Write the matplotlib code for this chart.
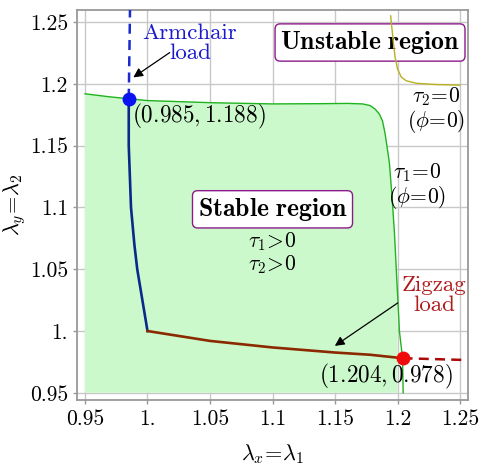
import numpy as np
from matplotlib import pyplot as plt

plt.rcParams['font.family'] = ['cmr10', 'DejaVu Serif']
plt.rcParams['mathtext.fontset'] = 'cm'
plt.rcParams['axes.unicode_minus'] = False

# boundary of the stable region (tau1 = 0 / tau2 = 0)
stable_x = [0.95, 0.97, 0.985, 1.0, 1.05, 1.1, 1.14, 1.16, 1.172, 1.178, 1.182, 1.1855,
            1.188, 1.19, 1.1915, 1.1935, 1.1955, 1.1975, 1.1995, 1.2015, 1.204, 1.2045]
stable_y = [1.192, 1.1895, 1.188, 1.1865, 1.1848, 1.1838, 1.184, 1.1842, 1.1838, 1.1825,
            1.1797, 1.1755, 1.170, 1.160, 1.150, 1.136, 1.11, 1.08, 1.04, 1.0, 0.978, 0.95]

# tau2 = 0 branch in the unstable region
tau2_x = [1.1945, 1.1955, 1.1965, 1.198, 1.200, 1.203, 1.207, 1.215, 1.23, 1.25]
tau2_y = [1.255, 1.245, 1.235, 1.222, 1.212, 1.2055, 1.2025, 1.2005, 1.1995, 1.199]

# armchair load path
arm_x = [0.985, 0.985, 0.9868, 0.9895, 0.9918, 1.0]
arm_y = [1.188, 1.15, 1.1, 1.07, 1.05, 1.0]
arm_ext_x = [0.985, 0.986]
arm_ext_y = [1.188, 1.26]

# zigzag load path
zig_x = [1.0, 1.05, 1.1, 1.15, 1.178, 1.204]
zig_y = [1.0, 0.992, 0.9867, 0.9826, 0.9808, 0.978]
zig_ext_x = [1.204, 1.256]
zig_ext_y = [0.978, 0.9765]

arm_pt = (0.985, 1.188)
zig_pt = (1.204, 0.978)

ticks = [0.95, 1.0, 1.05, 1.1, 1.15, 1.2, 1.25]
tick_labels = ['0.95', '1.', '1.05', '1.1', '1.15', '1.2', '1.25']

fig = plt.figure(figsize=(4.83, 4.70), dpi=100)
ax = fig.add_axes([0.1594, 0.149, 0.8086, 0.8297])

# fill of the stable region, clipped at x = 1.2
fx = np.minimum(np.array(stable_x), 1.2)
poly_x = np.concatenate([fx, [0.95]])
poly_y = np.concatenate([stable_y, [0.95]])
ax.fill(poly_x, poly_y, color='#ccf9cc', lw=0, zorder=1)
ax.plot(stable_x, stable_y, color='#1fb31f', lw=1.0, zorder=3)
ax.plot(tau2_x, tau2_y, color='#b8b020', lw=1.0, zorder=3)

ax.plot(arm_ext_x, arm_ext_y, color='#1a2acc', lw=1.8, ls=(0, (4, 2.5)), zorder=4)
ax.plot(arm_x, arm_y, color='#0a2a8a', lw=1.9, zorder=4)
ax.plot(zig_ext_x, zig_ext_y, color='#aa0a0a', lw=1.8, ls=(0, (4, 2.5)), zorder=4)
ax.plot(zig_x, zig_y, color='#8b2a00', lw=1.9, zorder=4)
ax.plot(*arm_pt, 'o', color='#0a14f0', ms=9, zorder=5)
ax.plot(*zig_pt, 'o', color='#f00a0a', ms=9, zorder=5)

fs = 15.5
ax.text(1.034, 1.233, 'Armchair\nload', color='#1a1acc', fontsize=16.5, ha='center',
        va='center', linespacing=1.05)
ax.annotate('', xy=(0.9868, 1.204), xytext=(1.0196, 1.2266),
            arrowprops=dict(arrowstyle='-|>', color='k', lw=0.9, mutation_scale=14))
ax.text(1.229, 1.029, 'Zigzag\nload', color='#b01a1a', fontsize=16.5, ha='center',
        va='center', linespacing=1.05)
ax.annotate('', xy=(1.148, 0.9867), xytext=(1.202, 1.024),
            arrowprops=dict(arrowstyle='-|>', color='k', lw=0.9, mutation_scale=14))

ax.text(0.9875, 1.174, r'$(0.985, 1.188)$', fontsize=16.7, ha='left', va='center')
ax.text(1.1905, 0.9635, r'$(1.204, 0.978)$', fontsize=16.7, ha='center', va='center')

box = dict(boxstyle='round,pad=0.2', fc='white', ec='#8b1a8b', lw=1.0)
ax.text(1.178, 1.2335, r'$\mathbf{Unstable\ region}$', fontsize=18.5, ha='center',
        va='center', bbox=box, zorder=2)
ax.text(1.1, 1.0985, r'$\mathbf{Stable\ region}$', fontsize=18.5, ha='center',
        va='center', bbox=box, zorder=6)
ax.text(1.1, 1.063, '$\\tau_1\\!>\\!0$\n$\\tau_2\\!>\\!0$', fontsize=fs, ha='center',
        va='center', linespacing=1.0)
ax.text(1.231, 1.179, '$\\tau_2\\!=\\!0$\n$(\\phi\\!=\\!0)$', fontsize=fs, ha='center',
        va='center', linespacing=1.0)
ax.text(1.216, 1.117, '$\\tau_1\\!=\\!0$\n$(\\phi\\!=\\!0)$', fontsize=fs, ha='center',
        va='center', linespacing=1.0)

ax.set_xlim(0.9436, 1.256)
ax.set_ylim(0.9442, 1.2598)
ax.set_xticks(ticks)
ax.set_xticklabels(tick_labels)
ax.set_yticks(ticks)
ax.set_yticklabels(tick_labels)
ax.tick_params(labelsize=fs, direction='out', length=3, color='#999999', width=1)
ax.grid(True, color='#c8c8c8', lw=1.0, zorder=0)
ax.set_axisbelow(True)
for s in ax.spines.values():
    s.set_color('#999999')
    s.set_linewidth(1.3)

ax.set_xlabel(r'$\lambda_x\!=\!\lambda_1$', fontsize=16)
ax.set_ylabel(r'$\lambda_y\!=\!\lambda_2$', fontsize=16)
ax.xaxis.set_label_coords(0.5, -0.108)
ax.yaxis.set_label_coords(-0.125, 0.5)

plt.savefig('out.png', dpi=100)
